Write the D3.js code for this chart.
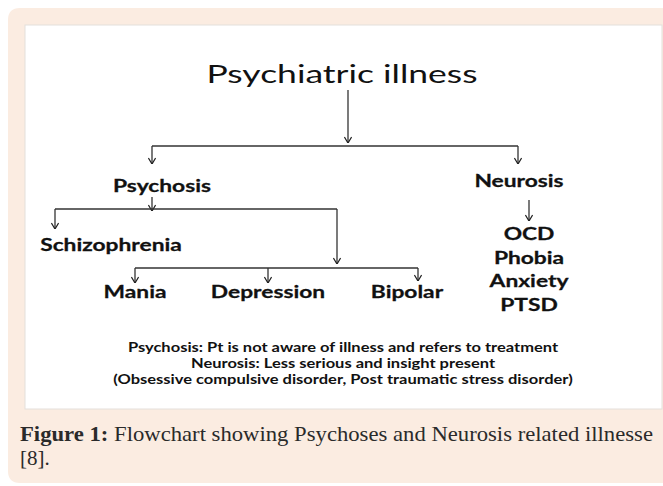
<!DOCTYPE html>
<html lang="en">
<head>
<meta charset="UTF-8">
<title>Psychiatric illness flowchart</title>
<script src="https://d3js.org/d3.v7.min.js"></script>
<style>
  html, body { margin: 0; padding: 0; background: #fff; }
  svg { display: block; }
</style>
</head>
<body>
<div id="chart"></div>
<script>
// ---- content ----
const rootLabel = "Psychiatric illness";
const branchLabels = ["Psychosis", "Neurosis"];
const psychosisLabels = ["Schizophrenia", "Mania", "Depression", "Bipolar"];
const neurosisLabels = ["OCD", "Phobia", "Anxiety", "PTSD"];
const noteLines = [
  "Psychosis: Pt is not aware of illness and refers to treatment",
  "Neurosis: Less serious and insight present",
  "(Obsessive compulsive disorder, Post traumatic stress disorder)"
];
const captionBold = "Figure 1:";
const captionRest = " Flowchart showing Psychoses and Neurosis related illnesse";
const captionLine2 = "[8].";

// ---- layout (pixels) ----
const W = 663, H = 486;
const chartFont = "Lato, 'Open Sans', sans-serif";
const serifFont = "'Liberation Serif', 'DejaVu Serif', serif";
const SX = 1.38; // the figure image is stretched horizontally

const svg = d3.select("#chart").append("svg")
  .attr("width", W).attr("height", H);

// arrow head: open chevron
svg.append("defs").append("marker")
  .attr("id", "arrow")
  .attr("viewBox", "0 0 10 10")
  .attr("refX", 9.5).attr("refY", 5)
  .attr("markerWidth", 8).attr("markerHeight", 8)
  .attr("markerUnits", "userSpaceOnUse")
  .attr("orient", "auto")
  .append("path")
  .attr("d", "M2,0.5 L9.5,5 L2,9.5")
  .attr("fill", "none")
  .attr("stroke", "#222")
  .attr("stroke-width", 1.6);

// outer peach panel, rounded on the left
svg.append("path")
  .attr("d", "M8,20 Q8,8 20,8 L680,8 L680,483 L20,483 Q8,483 8,471 Z")
  .attr("fill", "#fbece1");

// white figure area
svg.append("rect")
  .attr("x", 25).attr("y", 25)
  .attr("width", 637).attr("height", 384)
  .attr("fill", "#fff")
  .attr("stroke", "#e4dfdb").attr("stroke-width", 1);

const g = svg.append("g");

// connectors: polylines, arrow head on the last point when needed
const lineGen = d3.line();
const connectors = [
  { pts: [[348, 90], [348, 143]], arrow: true },
  { pts: [[152, 146], [518, 146]], arrow: false },
  { pts: [[152, 146], [152, 164]], arrow: true },
  { pts: [[518, 146], [518, 164]], arrow: true },
  { pts: [[152, 197], [152, 211]], arrow: true },
  { pts: [[55, 209], [337, 209]], arrow: false },
  { pts: [[55, 209], [55, 229]], arrow: true },
  { pts: [[337, 209], [337, 264]], arrow: true },
  { pts: [[135, 268], [418, 268]], arrow: false },
  { pts: [[135, 268], [135, 283]], arrow: true },
  { pts: [[268, 268], [268, 283]], arrow: true },
  { pts: [[418, 268], [418, 281]], arrow: true },
  { pts: [[529, 200], [529, 221]], arrow: true }
];

g.selectAll("path.conn")
  .data(connectors)
  .join("path")
  .attr("class", "conn")
  .attr("d", d => lineGen(d.pts))
  .attr("fill", "none")
  .attr("stroke", "#333")
  .attr("stroke-width", 1.3)
  .attr("marker-end", d => d.arrow ? "url(#arrow)" : null);

// root title
g.append("text")
  .attr("transform", "translate(342,83) scale(1.42,1)")
  .attr("text-anchor", "middle")
  .attr("font-family", chartFont)
  .attr("font-size", 25)
  .attr("fill", "#111")
  .text(rootLabel);

// bold node labels
const branchPos = [[162, 192], [519, 187]];
const psychPos = [[111, 251], [135, 298], [268, 298], [407, 298]];

const labels = [
  ...branchLabels.map((t, i) => ({ t, p: branchPos[i] })),
  ...psychosisLabels.map((t, i) => ({ t, p: psychPos[i] })),
  ...neurosisLabels.map((t, i) => ({ t, p: [529, 240 + i * 23.7] }))
];

g.selectAll("text.node")
  .data(labels)
  .join("text")
  .attr("class", "node")
  .attr("transform", d => `translate(${d.p[0]},${d.p[1]}) scale(${SX},1)`)
  .attr("text-anchor", "middle")
  .attr("font-family", chartFont)
  .attr("font-weight", "bold")
  .attr("font-size", 16.5)
  .attr("fill", "#111")
  .attr("stroke", "#111")
  .attr("stroke-width", 0.25)
  .text(d => d.t);

// notes
g.selectAll("text.note")
  .data(noteLines)
  .join("text")
  .attr("class", "note")
  .attr("transform", (d, i) => `translate(343,${352 + i * 16}) scale(1.32,1)`)
  .attr("text-anchor", "middle")
  .attr("font-family", chartFont)
  .attr("font-weight", "bold")
  .attr("font-size", 12.5)
  .attr("fill", "#111")
  .text(d => d);

// caption
const cap = svg.append("text")
  .attr("x", 20).attr("y", 441)
  .attr("font-family", serifFont)
  .attr("font-size", 21)
  .attr("fill", "#2a2a2a")
  .attr("textLength", 633)
  .attr("lengthAdjust", "spacingAndGlyphs");
cap.append("tspan").attr("font-weight", "bold").text(captionBold);
cap.append("tspan").text(captionRest);

svg.append("text")
  .attr("x", 20).attr("y", 465)
  .attr("font-family", serifFont)
  .attr("font-size", 21)
  .attr("fill", "#2a2a2a")
  .text(captionLine2);
</script>
</body>
</html>
